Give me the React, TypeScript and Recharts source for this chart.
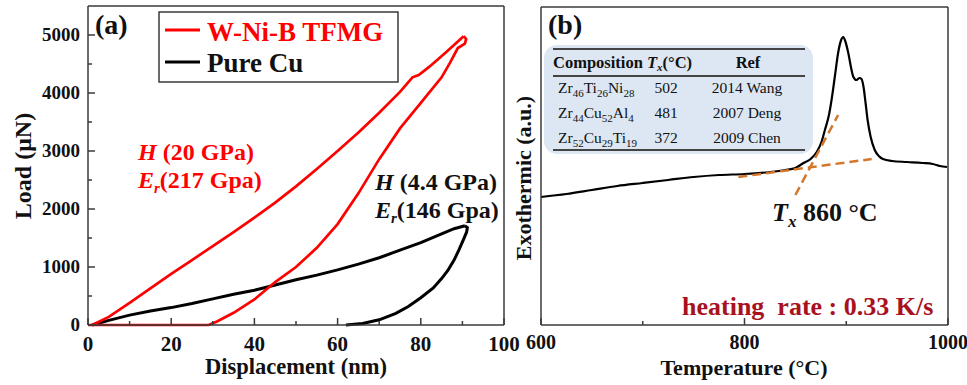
import React from 'react';
import { LineChart, Line, XAxis, YAxis, ReferenceLine } from 'recharts';

const FONT = '"Liberation Serif", "Times New Roman", serif';
const AXIS = '#3a3a3a';
const RED = '#ff0000';
const ORANGE = '#d2772c';
const DARK_RED = '#a8121e';

// (a) load–displacement, [displacement nm, load µN]
const tfmgLoading = [
  [1, 0], [5, 140], [10, 380], [15, 630], [20, 880], [25, 1120], [30, 1360], [35, 1600],
  [40, 1850], [45, 2110], [50, 2390], [55, 2690], [60, 3000], [65, 3320], [70, 3660],
  [75, 4020], [78, 4270], [79.5, 4310], [82, 4450], [86, 4700], [90.3, 4980],
];
const tfmgUnloading = [
  [90.3, 4980], [90.9, 4930], [90.6, 4850], [88.9, 4776], [87, 4520], [85, 4270], [80, 3830],
  [75, 3390], [70, 2860], [65, 2270], [60, 1740], [55, 1330], [50, 1000], [45, 740],
  [40, 440], [35, 210], [31, 60], [29, 0], [0, 0],
];
const cuLoading = [
  [1, 0], [5, 80], [10, 170], [15, 240], [20, 300], [25, 370], [30, 450], [35, 530],
  [40, 600], [45, 690], [50, 780], [55, 860], [60, 950], [65, 1050], [70, 1160],
  [75, 1290], [80, 1420], [85, 1570], [88, 1660], [90.6, 1710],
];
const cuUnloading = [
  [90.6, 1710], [91.2, 1680], [91, 1600], [90.3, 1480], [89.2, 1300], [88, 1120],
  [86.5, 940], [85, 800], [83, 640], [80, 470], [77, 320], [74, 200], [70, 90],
  [66, 25], [62, 0],
];
const dispTicks = [0, 10, 20, 30, 40, 50, 60, 70, 80, 90, 100];
const dispLabels = [0, 20, 40, 60, 80, 100];
const loadTicks = [0, 500, 1000, 1500, 2000, 2500, 3000, 3500, 4000, 4500, 5000];
const loadLabels = [0, 1000, 2000, 3000, 4000, 5000];

// (b) DSC trace, [temperature °C, signal a.u.]
const dscCurve = [
  [600, 128], [625, 131], [650, 135], [675, 139], [700, 142], [725, 145], [750, 148],
  [775, 150], [800, 151], [825, 153], [840, 155], [850, 157], [858, 162], [865, 166],
  [871, 173], [876, 184], [879, 195], [883, 210], [886, 228], [889, 250], [892, 272],
  [895, 285], [897, 288], [899, 284], [902, 272], [905, 256], [907, 248], [910, 245],
  [913, 247], [915, 246], [917, 238], [919, 222], [921, 205], [924, 188], [928, 175],
  [932, 169], [936, 166], [945, 164], [960, 163], [975, 162], [985, 161], [992, 159],
  [999, 158],
];
const baselineTangent = [[794, 148], [925, 166]];
const onsetTangent = [[850, 130], [892, 210]];
const tempTicks = [600, 700, 800, 900, 1000];
const tempLabels = [600, 800, 1000];

// composition as [element, subscript] pairs
const tableRows = [
  { comp: [['Zr', '46'], ['Ti', '26'], ['Ni', '28']], tx: '502', ref: '2014 Wang' },
  { comp: [['Zr', '44'], ['Cu', '52'], ['Al', '4']], tx: '481', ref: '2007 Deng' },
  { comp: [['Zr', '52'], ['Cu', '29'], ['Ti', '19']], tx: '372', ref: '2009 Chen' },
];

const toPts = (arr: number[][]) => arr.map(([x, y]) => ({ x, y }));

const BottomTick = (props: any) => {
  const { x, y, payload, labels, fontSize, dy } = props;
  const major = labels.includes(payload.value);
  return (
    <g>
      <line x1={x} x2={x} y1={y} y2={y - (major ? 7 : 4)} stroke={AXIS} strokeWidth={1.5} />
      {major && (
        <text x={x} y={y + dy} textAnchor="middle" fontFamily={FONT} fontWeight="bold" fontSize={fontSize} fill="#111">
          {payload.value}
        </text>
      )}
    </g>
  );
};

const LeftTick = (props: any) => {
  const { x, y, payload, labels } = props;
  const major = labels.includes(payload.value);
  return (
    <g>
      <line x1={x} x2={x + (major ? 7 : 4)} y1={y} y2={y} stroke={AXIS} strokeWidth={1.5} />
      {major && (
        <text x={x - 8} y={y} dy="0.34em" textAnchor="end" fontFamily={FONT} fontWeight="bold" fontSize={19} fill="#111">
          {payload.value}
        </text>
      )}
    </g>
  );
};

const axisLine = { stroke: AXIS, strokeWidth: 1.5 };

const PanelA = () => (
  <LineChart width={520} height={385} margin={{ top: 6, right: 16, bottom: 0, left: 0 }}>
    <XAxis
      type="number" dataKey="x" domain={[0, 100]} ticks={dispTicks} interval={0}
      height={60} tickSize={0} tickMargin={0} tickLine={false} axisLine={axisLine}
      tick={(p: any) => <BottomTick {...p} labels={dispLabels} fontSize={21} dy={26} />}
    />
    <YAxis
      type="number" dataKey="y" domain={[0, 5500]} ticks={loadTicks} interval={0}
      width={88} tickSize={0} tickMargin={0} tickLine={false} axisLine={axisLine}
      tick={(p: any) => <LeftTick {...p} labels={loadLabels} />}
    />
    <ReferenceLine y={5500} stroke={AXIS} strokeWidth={1.5} />
    <ReferenceLine x={100} stroke={AXIS} strokeWidth={1.5} />
    <Line data={toPts(cuLoading)} dataKey="y" stroke="#000" strokeWidth={3} dot={false} isAnimationActive={false} />
    <Line data={toPts(cuUnloading)} dataKey="y" stroke="#000" strokeWidth={3} dot={false} isAnimationActive={false} />
    <Line data={toPts(tfmgLoading)} dataKey="y" stroke={RED} strokeWidth={2.7} dot={false} isAnimationActive={false} />
    <Line data={toPts(tfmgUnloading)} dataKey="y" stroke={RED} strokeWidth={2.7} dot={false} isAnimationActive={false} />
  </LineChart>
);

const PanelB = () => (
  <LineChart width={462} height={385} margin={{ top: 7, right: 19, bottom: 0, left: 0 }}>
    <XAxis
      type="number" dataKey="x" domain={[600, 1000]} ticks={tempTicks} interval={0}
      height={60} tickSize={0} tickMargin={0} tickLine={false} axisLine={axisLine}
      tick={(p: any) => <BottomTick {...p} labels={tempLabels} fontSize={20} dy={24} />}
    />
    <YAxis type="number" dataKey="y" domain={[0, 318]} width={36} tick={false} tickLine={false} axisLine={axisLine} />
    <ReferenceLine y={318} stroke={AXIS} strokeWidth={1.5} />
    <ReferenceLine x={1000} stroke={AXIS} strokeWidth={1.5} />
    <Line data={toPts(dscCurve)} dataKey="y" type="monotone" stroke="#000" strokeWidth={2.2} dot={false} isAnimationActive={false} />
    <Line data={toPts(baselineTangent)} dataKey="y" stroke={ORANGE} strokeWidth={2.5} strokeDasharray="9 5" dot={false} isAnimationActive={false} />
    <Line data={toPts(onsetTangent)} dataKey="y" stroke={ORANGE} strokeWidth={2.5} strokeDasharray="9 5" dot={false} isAnimationActive={false} />
  </LineChart>
);

const Formula = ({ parts }: { parts: string[][] }) => (
  <>
    {parts.map(([el, n], i) => (
      <React.Fragment key={i}>
        <tspan dy={i === 0 ? 0 : -4}>{el}</tspan>
        <tspan fontSize={11} dy={4}>{n}</tspan>
      </React.Fragment>
    ))}
  </>
);

const Table = () => (
  <g fontFamily={FONT} fill="#111">
    <rect x={544} y={45} width={269} height={109} rx={13} fill="#dce7f3" />
    <line x1={553} x2={805} y1={49} y2={49} stroke="#444" strokeWidth={2} />
    <line x1={553} x2={805} y1={76} y2={76} stroke="#444" strokeWidth={2} />
    <line x1={553} x2={805} y1={150} y2={150} stroke="#444" strokeWidth={2} />
    <text x={553} y={68} fontSize={16.5} fontWeight="bold">
      Composition <tspan fontStyle="italic">T</tspan>
      <tspan fontStyle="italic" fontSize={11} dy={3}>x</tspan>
      <tspan dy={-3}>(°C)</tspan>
    </text>
    <text x={748} y={68} fontSize={16.5} fontWeight="bold" textAnchor="middle">Ref</text>
    {tableRows.map((r, i) => {
      const y = 93 + i * 25;
      return (
        <g key={r.ref}>
          <text x={558} y={y} fontSize={15.5}>
            <Formula parts={r.comp} />
          </text>
          <text x={666} y={y} fontSize={15.5} textAnchor="middle">{r.tx}</text>
          <text x={747} y={y} fontSize={15.5} textAnchor="middle">{r.ref}</text>
        </g>
      );
    })}
  </g>
);

const Overlay = () => (
  <svg width={967} height={385} style={{ position: 'absolute', left: 0, top: 0, pointerEvents: 'none' }} fontFamily={FONT}>
    <g fontWeight="bold">
      <text x={95} y={34} fontSize={28} fill="#111">(a)</text>
      <text x={548} y={34} fontSize={28} fill="#111">(b)</text>

      <rect x={159} y={12} width={239} height={70} fill="#fff" stroke={AXIS} strokeWidth={1.5} />
      <line x1={165} x2={200} y1={30} y2={30} stroke={RED} strokeWidth={3} />
      <text x={207} y={41} fontSize={27} fill={RED}>W-Ni-B TFMG</text>
      <line x1={165} x2={200} y1={62} y2={62} stroke="#000" strokeWidth={3} />
      <text x={207} y={72} fontSize={27} fill="#111">Pure Cu</text>

      <text x={138} y={160} fontSize={24} fill={RED}>
        <tspan fontStyle="italic">H</tspan> (20 GPa)
      </text>
      <text x={138} y={188} fontSize={24} fill={RED}>
        <tspan fontStyle="italic">E</tspan>
        <tspan fontStyle="italic" fontSize={15} dy={5}>r</tspan>
        <tspan dy={-5}>(217 Gpa)</tspan>
      </text>
      <text x={375} y={190} fontSize={24} fill="#111">
        <tspan fontStyle="italic">H</tspan> (4.4 GPa)
      </text>
      <text x={375} y={218} fontSize={24} fill="#111">
        <tspan fontStyle="italic">E</tspan>
        <tspan fontStyle="italic" fontSize={15} dy={5}>r</tspan>
        <tspan dy={-5}>(146 Gpa)</tspan>
      </text>

      <text x={772} y={221} fontSize={26} fill="#111">
        <tspan fontStyle="italic">T</tspan>
        <tspan fontStyle="italic" fontSize={17} dy={6}>x</tspan>
        <tspan dy={-6}> 860 °C</tspan>
      </text>
      <text x={682} y={315} fontSize={26} fill={DARK_RED} style={{ whiteSpace: 'pre' }}>heating  rate : 0.33 K/s</text>

      <text x={296} y={374} fontSize={22.5} textAnchor="middle" fill="#111">Displacement (nm)</text>
      <text x={744} y={375} fontSize={22} textAnchor="middle" fill="#111">Temperature (°C)</text>
      <text transform="translate(31,166) rotate(-90)" fontSize={24} textAnchor="middle" fill="#111">Load (μN)</text>
      <text transform="translate(531,178) rotate(-90)" fontSize={22} textAnchor="middle" fill="#111">Exothermic (a.u.)</text>
    </g>
    <Table />
  </svg>
);

export default function App() {
  return (
    <div style={{ position: 'absolute', left: 0, top: 0, width: 967, height: 385, overflow: 'hidden', background: '#fff' }}>
      <div style={{ position: 'absolute', left: 0, top: 0 }}>
        <PanelA />
      </div>
      <div style={{ position: 'absolute', left: 505, top: 0 }}>
        <PanelB />
      </div>
      <Overlay />
    </div>
  );
}
